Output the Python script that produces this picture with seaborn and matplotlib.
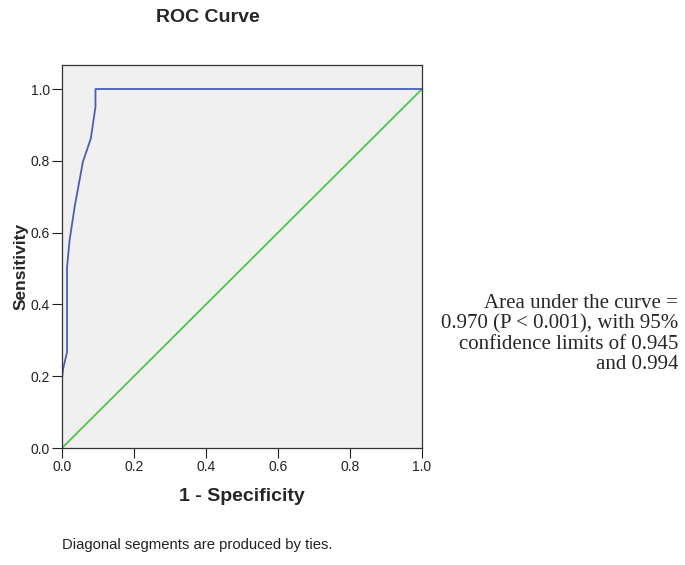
import numpy as np
import pandas as pd
import matplotlib
matplotlib.use("Agg")
import matplotlib.pyplot as plt
import seaborn as sns

# ROC curve points
fpr = [0.0, 0.0, 0.003, 0.014, 0.014, 0.021, 0.035, 0.058, 0.080, 0.093, 0.093, 1.0]
tpr = [0.0, 0.193, 0.22, 0.267, 0.504, 0.578, 0.671, 0.797, 0.862, 0.950, 1.0, 1.0]
ref_x = [0.0, 1.0]
ref_y = [0.0, 1.0]
ticks = [0.0, 0.2, 0.4, 0.6, 0.8, 1.0]
tick_labels = ["0.0", "0.2", "0.4", "0.6", "0.8", "1.0"]

sns.set_style("ticks")
plt.rcParams["font.family"] = ["Liberation Sans", "DejaVu Sans"]

fig = plt.figure(figsize=(6.85, 5.65), dpi=100)
ax = fig.add_axes([62 / 685, 1 - 448 / 565, 360 / 685, 383 / 565])
ax.set_facecolor("#f0f0f0")

roc = pd.DataFrame({"fpr": fpr, "tpr": tpr})
diag = pd.DataFrame({"x": ref_x, "y": ref_y})
sns.lineplot(data=diag, x="x", y="y", sort=False, estimator=None,
             color="#4fc44f", linewidth=1.3, ax=ax)
sns.lineplot(data=roc, x="fpr", y="tpr", sort=False, estimator=None,
             color="#4a5fb3", linewidth=1.3, ax=ax)

ax.set_xlim(0, 1.0)
ax.set_ylim(0, 383 / 359)
ax.set_xticks(ticks)
ax.set_xticklabels(tick_labels)
ax.set_yticks(ticks)
ax.set_yticklabels(tick_labels)
ax.tick_params(axis="both", direction="out", length=7, width=0.8,
               labelsize=10, pad=1.5, colors="#222222")
for s in ax.spines.values():
    s.set_color("#333333")
    s.set_linewidth(0.9)

ax.set_xlabel("1 - Specificity", fontsize=14, fontweight="bold", labelpad=10)
ax.set_ylabel("Sensitivity", fontsize=12.5, fontweight="bold")
ax.yaxis.set_label_coords(-0.094, 0.474)
fig.text(208 / 685, 1 - 17 / 565, "ROC Curve", fontsize=14, fontweight="bold",
         ha="center", va="center")

fig.text(62 / 685, 1 - 545 / 565, "Diagonal segments are produced by ties.",
         fontsize=10.7, ha="left", va="center", color="#222222")

fig.text(678 / 685, 1 - 334 / 565,
         "Area under the curve =\n0.970 (P < 0.001), with 95%\nconfidence limits of 0.945\nand 0.994",
         fontsize=15, ha="right", va="center", family=["Liberation Serif"],
         linespacing=1.1)

fig.savefig("out.png", dpi=100)
